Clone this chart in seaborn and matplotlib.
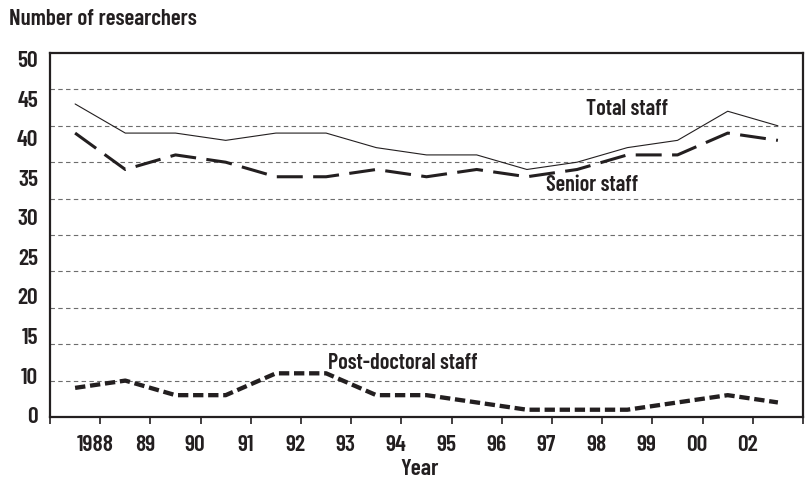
import numpy as np
import pandas as pd
import matplotlib
matplotlib.use("Agg")
import matplotlib.pyplot as plt
import seaborn as sns
from matplotlib.transforms import ScaledTranslation

# ---- data ----
years = [1988, 1989, 1990, 1991, 1992, 1993, 1994, 1995, 1996, 1997, 1998, 1999, 2000, 2001, 2002]
total_staff = [43, 39, 39, 38, 39, 39, 37, 36, 36, 34, 35, 37, 38, 42, 40]
senior_staff = [39, 34, 36, 35, 33, 33, 34, 33, 34, 33, 34, 36, 36, 39, 38]
postdoc_staff = [4, 5, 3, 3, 6, 6, 3, 3, 2, 1, 1, 1, 2, 3, 2]
x_tick_labels = ["1988", "89", "90", "91", "92", "93", "94", "95", "96", "97", "98", "99", "00", "02"]
y_tick_labels = ["0", "10", "15", "20", "25", "30", "35", "40", "45", "50"]
grid_values = [5, 10, 15, 20, 25, 30, 35, 40, 45]

sns.set_style("white")
FONT = ["Barlow Condensed", "DejaVu Sans"]
plt.rcParams["font.family"] = FONT
plt.rcParams["font.weight"] = 600
plt.rcParams["axes.labelweight"] = 600
INK = "#231f20"
FS = 17

df = pd.DataFrame({"year": years, "Total staff": total_staff,
                   "Senior staff": senior_staff, "Post-doctoral staff": postdoc_staff})

fig = plt.figure(figsize=(8.09, 4.81), dpi=100)
ax = fig.add_axes([50 / 809, 1 - 418 / 481, 753 / 809, 364 / 481])

sns.lineplot(data=df, x="year", y="Total staff", ax=ax, color=INK, linewidth=0.8)
sns.lineplot(data=df, x="year", y="Senior staff", ax=ax, color=INK, linewidth=2.2,
             linestyle=(0, (8.5, 3.4)))
sns.lineplot(data=df, x="year", y="Post-doctoral staff", ax=ax, color=INK, linewidth=3.1,
             linestyle=(0, (2.4, 1.1)))

# x axis: ticks at period boundaries, labels shifted slightly left
boundaries = [y - 0.5 for y in years] + [years[-1] + 0.5]
ax.set_xlim(boundaries[0], boundaries[-1])
ax.set_xticks(boundaries)
ax.set_xticklabels([""] + x_tick_labels + [""])
ax.tick_params(axis="x", direction="out", length=5, width=1.2, color=INK, pad=7,
               labelsize=FS, labelcolor=INK, bottom=True)
off = ScaledTranslation(-5.5 / 100, 0, fig.dpi_scale_trans)
for lab in ax.get_xticklabels():
    lab.set_transform(lab.get_transform() + off)

# y axis: gridlines every 5, labels evenly spread as in the source
ax.set_ylim(0, 50)
ax.set_yticks(np.linspace(0.4, 49.3, len(y_tick_labels)))
ax.set_yticklabels(y_tick_labels)
ax.set_yticks(grid_values, minor=True)
ax.tick_params(axis="y", which="both", length=0, pad=8.5, labelsize=FS, labelcolor=INK, left=False)
ax.yaxis.grid(False, which="major")
ax.yaxis.grid(True, which="minor", linestyle=(0, (4, 3)), color="#6d6d6d", linewidth=0.8)
ax.xaxis.grid(False)
ax.set_axisbelow(True)

for sp in ax.spines.values():
    sp.set_visible(True)
    sp.set_color(INK)
    sp.set_linewidth(1.6)

ax.set_xlabel("Year", fontsize=FS, color=INK, fontweight=600)
ax.xaxis.set_label_coords(0.491, -0.112)
ax.set_ylabel("")

fig.text(9 / 809, 1 - 9 / 481, "Number of researchers", fontsize=FS - 0.5, color=INK,
         ha="left", va="top")

AFS = 16
ax.text(1999.0, 42.4, "Total staff", fontsize=AFS, color=INK, ha="center", va="center")
ax.text(1998.3, 32.0, "Senior staff", fontsize=AFS, color=INK, ha="center", va="center")
ax.text(1994.53, 7.6, "Post-doctoral staff", fontsize=AFS, color=INK, ha="center", va="center")

fig.savefig("out.png", dpi=100)
